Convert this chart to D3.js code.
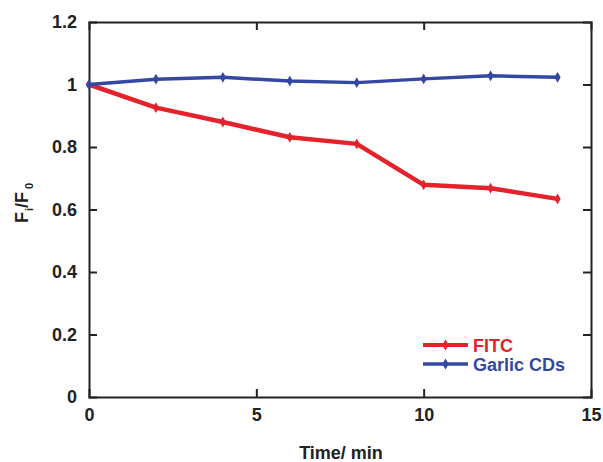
<!DOCTYPE html>
<html>
<head>
<meta charset="utf-8">
<script src="https://cdn.jsdelivr.net/npm/d3@7"></script>
<style>
  html, body { margin: 0; padding: 0; background: #fff; }
  svg text { font-family: "Liberation Sans", Arial, sans-serif; font-weight: bold; fill: #222; }
</style>
</head>
<body>
<svg id="chart" width="603" height="462"></svg>
<script>
// Time points (min)
const times = [0, 2, 4, 6, 8, 10, 12, 14];
// Relative fluorescence Fi/F0
const fitcValues   = [1.000, 0.926, 0.880, 0.831, 0.810, 0.679, 0.668, 0.634];
const garlicValues = [1.000, 1.017, 1.023, 1.011, 1.006, 1.018, 1.028, 1.023];
const seriesNames  = ["FITC", "Garlic CDs"];
const seriesColors = ["#e3222b", "#3447a3"];
const xTicks = [0, 5, 10, 15];
const yTicks = [0, 0.2, 0.4, 0.6, 0.8, 1, 1.2];

const svg = d3.select("#chart");
const m = { left: 89, right: 12, top: 22, bottom: 65 };
const W = 603, H = 462;

const x = d3.scaleLinear().domain([0, 15]).range([m.left, W - m.right]);
const y = d3.scaleLinear().domain([0, 1.2]).range([H - m.bottom, m.top]);

const tickLen = 8;
const fs = 18;
const fmt = d => d3.format("")(d);

// bottom axis, ticks pointing inward
const gx = svg.append("g").attr("transform", `translate(0,${y(0)})`)
  .call(d3.axisBottom(x).tickValues(xTicks).tickSize(-tickLen).tickPadding(11).tickFormat(fmt));
// top axis mirror
const gxt = svg.append("g").attr("transform", `translate(0,${y(1.2)})`)
  .call(d3.axisTop(x).tickValues(xTicks).tickSize(-tickLen).tickFormat(""));
// left axis
const gy = svg.append("g").attr("transform", `translate(${x(0)},0)`)
  .call(d3.axisLeft(y).tickValues(yTicks).tickSize(-tickLen).tickPadding(12).tickFormat(fmt));
// right axis mirror
const gyr = svg.append("g").attr("transform", `translate(${x(15)},0)`)
  .call(d3.axisRight(y).tickValues(yTicks).tickSize(-tickLen).tickFormat(""));

[gx, gxt, gy, gyr].forEach(g => {
  g.selectAll(".domain").attr("stroke", "#222").attr("stroke-width", 2);
  g.selectAll(".tick line").attr("stroke", "#222").attr("stroke-width", 2);
  g.selectAll(".tick text").attr("font-size", fs).attr("fill", "#222")
    .style("font-family", "'Liberation Sans', Arial, sans-serif").style("font-weight", "bold");
});
// drop end ticks that sit on the frame corners
gx.selectAll(".tick").filter(d => d === 0 || d === 15).select("line").remove();
gxt.selectAll(".tick").filter(d => d === 0 || d === 15).select("line").remove();
gy.selectAll(".tick").filter(d => d === 0 || d === 1.2).select("line").remove();
gyr.selectAll(".tick").filter(d => d === 0 || d === 1.2).select("line").remove();
gx.selectAll(".tick text").attr("dy", "0.71em");

// series lines with diamond markers
const line = d3.line().x((d, i) => x(times[i])).y(d => y(d));
const diamond = d3.symbol().type(d3.symbolDiamond).size(34);
const allSeries = [fitcValues, garlicValues];
[0, 1].forEach(k => {
  const vals = allSeries[k];
  const g = svg.append("g");
  g.append("path").datum(vals).attr("d", line)
    .attr("fill", "none").attr("stroke", seriesColors[k])
    .attr("stroke-width", k === 0 ? 4.5 : 3.5).attr("stroke-linejoin", "round");
  g.selectAll("path.mk").data(vals).enter().append("path").attr("class", "mk")
    .attr("d", diamond)
    .attr("transform", (d, i) => `translate(${x(times[i])},${y(d)})`)
    .attr("fill", seriesColors[k]);
});

// legend
const lg = svg.append("g");
seriesNames.forEach((name, k) => {
  const ly = 345 + k * 19;
  lg.append("line").attr("x1", 423).attr("x2", 468).attr("y1", ly).attr("y2", ly)
    .attr("stroke", seriesColors[k]).attr("stroke-width", k === 0 ? 4 : 3.5);
  lg.append("path").attr("d", diamond).attr("transform", `translate(445.5,${ly})`)
    .attr("fill", seriesColors[k]);
  lg.append("text").attr("x", 473).attr("y", ly + 6.5).attr("font-size", fs)
    .style("fill", seriesColors[k]).text(name);
});

// axis titles
svg.append("text").attr("x", 341).attr("y", 459).attr("text-anchor", "middle")
  .attr("font-size", fs).text("Time/ min");

const yt = svg.append("text").attr("transform", "translate(28,203) rotate(-90)")
  .attr("text-anchor", "middle").attr("font-size", fs);
yt.append("tspan").text("F");
yt.append("tspan").attr("font-size", 11).attr("dy", 5).attr("dx", 1).text("i");
yt.append("tspan").attr("dy", -5).text("/F");
yt.append("tspan").attr("font-size", 11).attr("dy", 5).attr("dx", 3).text("0");
</script>
</body>
</html>
